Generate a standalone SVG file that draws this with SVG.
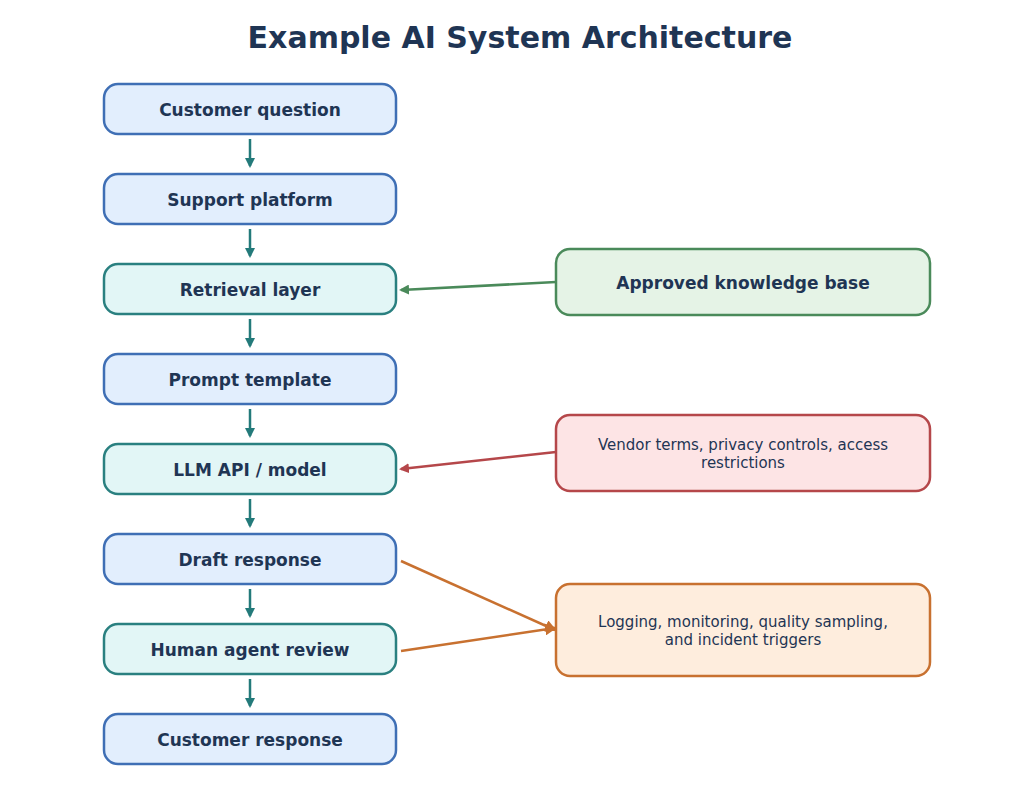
<svg xmlns="http://www.w3.org/2000/svg" width="1024" height="790" viewBox="0 0 1024 790">
<defs>
<style>
text{font-family:"DejaVu Sans",sans-serif;fill:#1f3554;text-anchor:middle}
.t{font-size:17px;font-weight:bold}
.s{font-size:15px}
.b{fill:#e2eefd;stroke:#3f6fb5;stroke-width:2.5}
.c{fill:#e2f6f6;stroke:#2a8080;stroke-width:2.5}
</style>
<marker id="mt" markerWidth="10" markerHeight="10" refX="8" refY="5" orient="auto" markerUnits="userSpaceOnUse"><path d="M0,0L10,5L0,10z" fill="#237a7a"/></marker>
<marker id="mg" markerWidth="10" markerHeight="10" refX="8" refY="5" orient="auto" markerUnits="userSpaceOnUse"><path d="M0,0L10,5L0,10z" fill="#4a8a5a"/></marker>
<marker id="mr" markerWidth="10" markerHeight="10" refX="8" refY="5" orient="auto" markerUnits="userSpaceOnUse"><path d="M0,0L10,5L0,10z" fill="#b5474a"/></marker>
<marker id="mo" markerWidth="12" markerHeight="12" refX="10" refY="6" orient="auto" markerUnits="userSpaceOnUse"><path d="M0,0L12,6L0,12z" fill="#c87130"/></marker>
</defs>
<rect width="1024" height="790" fill="#fff"/>
<text x="520" y="48" style="font-size:30px;font-weight:bold">Example AI System Architecture</text>
<g id="connectors" stroke-width="2.5" fill="none">
<g stroke="#237a7a" marker-end="url(#mt)">
<line x1="250" y1="139" x2="250" y2="166"/>
<line x1="250" y1="229" x2="250" y2="256"/>
<line x1="250" y1="319" x2="250" y2="346"/>
<line x1="250" y1="409" x2="250" y2="436"/>
<line x1="250" y1="499" x2="250" y2="526"/>
<line x1="250" y1="589" x2="250" y2="616"/>
<line x1="250" y1="679" x2="250" y2="706"/>
</g>
<line x1="556" y1="282" x2="401" y2="290" stroke="#4a8a5a" marker-end="url(#mg)"/>
<line x1="556" y1="452" x2="401" y2="469" stroke="#b5474a" marker-end="url(#mr)"/>
<line x1="401" y1="561" x2="555" y2="630" stroke="#c87130" marker-end="url(#mo)"/>
<line x1="401" y1="651" x2="555" y2="628" stroke="#c87130" marker-end="url(#mo)"/>
</g>
<g id="n1"><rect class="b" x="104" y="84" width="292" height="50" rx="14"/><text class="t" x="250" y="116">Customer question</text></g>
<g id="n2"><rect class="b" x="104" y="174" width="292" height="50" rx="14"/><text class="t" x="250" y="206">Support platform</text></g>
<g id="n3"><rect class="c" x="104" y="264" width="292" height="50" rx="14"/><text class="t" x="250" y="296">Retrieval layer</text></g>
<g id="n4"><rect class="b" x="104" y="354" width="292" height="50" rx="14"/><text class="t" x="250" y="386">Prompt template</text></g>
<g id="n5"><rect class="c" x="104" y="444" width="292" height="50" rx="14"/><text class="t" x="250" y="476">LLM API / model</text></g>
<g id="n6"><rect class="b" x="104" y="534" width="292" height="50" rx="14"/><text class="t" x="250" y="566">Draft response</text></g>
<g id="n7"><rect class="c" x="104" y="624" width="292" height="50" rx="14"/><text class="t" x="250" y="656">Human agent review</text></g>
<g id="n8"><rect class="b" x="104" y="714" width="292" height="50" rx="14"/><text class="t" x="250" y="746">Customer response</text></g>
<g id="kb"><rect x="556" y="249" width="374" height="66" rx="14" fill="#e5f3e6" stroke="#4a8a5a" stroke-width="2.5"/><text class="t" x="743" y="289">Approved knowledge base</text></g>
<g id="vendor"><rect x="556" y="415" width="374" height="76" rx="14" fill="#fde4e5" stroke="#b5474a" stroke-width="2.5"/><text class="s" x="743" y="450">Vendor terms, privacy controls, access</text><text class="s" x="743" y="468">restrictions</text></g>
<g id="log"><rect x="556" y="584" width="374" height="92" rx="14" fill="#feeddd" stroke="#c87130" stroke-width="2.5"/><text class="s" x="743" y="627">Logging, monitoring, quality sampling,</text><text class="s" x="743" y="645">and incident triggers</text></g>
</svg>
